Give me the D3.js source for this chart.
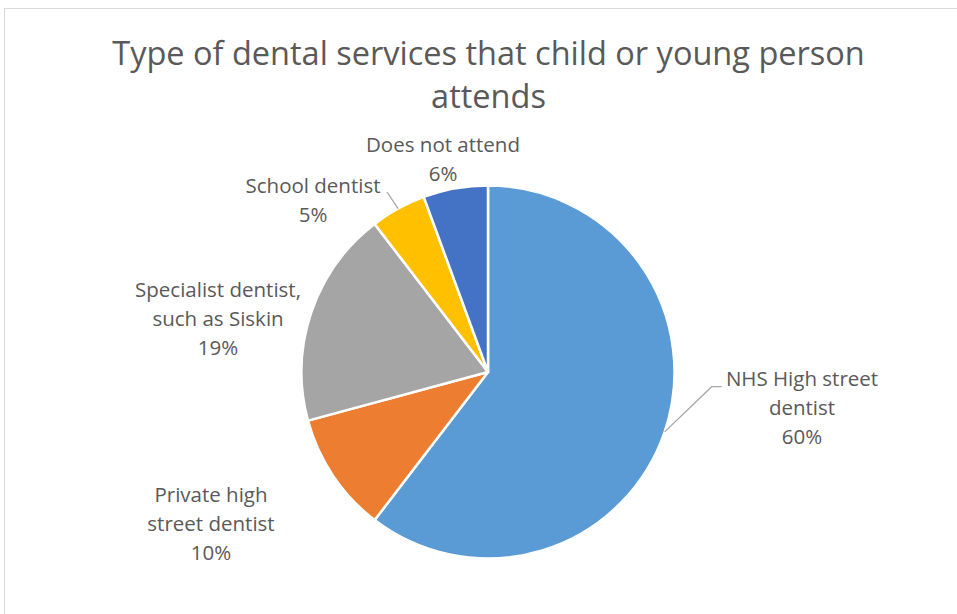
<!DOCTYPE html>
<html><head><meta charset="utf-8">
<script src="https://cdn.jsdelivr.net/npm/d3@7"></script>
<style>body{margin:0;background:#fff}svg{display:block}</style>
</head><body>
<svg id="c" width="957" height="614"></svg>
<script>
// ---- data ----
const categories = ["NHS High street dentist","Private high street dentist","Specialist dentist, such as Siskin","School dentist","Does not attend"];
const values = [60.4, 10.4, 18.8, 4.8, 5.6];
const colors = ["#5B9BD5","#ED7D31","#A5A5A5","#FFC000","#4472C4"];
const labelLines = [["NHS High street","dentist"],["Private high","street dentist"],["Specialist dentist,","such as Siskin"],["School dentist"],["Does not attend"]];
const titleLines = ["Type of dental services that child or young person","attends"];

// ---- layout ----
const cx = 488, cy = 372, R = 186.5;
const labelPos = [[802,386],[211,502],[218,297],[313,193],[443,152]]; // center x, first baseline
const lineH = 29;
const leaders = [[[711.7,386.7],[721.7,386.7]], null, null, [[387,192]], null];

const svg = d3.select("#c");
svg.append("rect").attr("x",4.5).attr("y",8.5).attr("width",1000).attr("height",700)
  .attr("fill","#fff").attr("stroke","#d9d9d9").attr("stroke-width",1);

const font = "'Open Sans', sans-serif";
const tcol = "#595959";

svg.append("g").selectAll("text").data(titleLines).join("text")
  .attr("x",488.5).attr("y",(d,i)=>65+i*43)
  .attr("text-anchor","middle").attr("font-family",font).attr("font-size",32.5)
  .attr("fill",tcol).text(d=>d);

const pie = d3.pie().value(d=>d).sort(null);
const arcs = pie(values);
const arc = d3.arc().innerRadius(0).outerRadius(R);
const g = svg.append("g").attr("transform",`translate(${cx},${cy})`);
g.selectAll("path").data(arcs).join("path")
  .attr("d",arc).attr("fill",(d,i)=>colors[i])
  .attr("stroke","#fff").attr("stroke-width",2.5).attr("stroke-linejoin","round");

// leader lines
arcs.forEach((a,i)=>{
  if(!leaders[i]) return;
  const m = (a.startAngle+a.endAngle)/2;
  const p0 = [cx+R*Math.sin(m), cy-R*Math.cos(m)];
  const pts = [p0].concat(leaders[i]);
  svg.append("path").attr("d",d3.line()(pts)).attr("fill","none")
    .attr("stroke","#a6a6a6").attr("stroke-width",1.3);
});

// labels
const fmt = v => Math.round(v)+"%";
arcs.forEach((a,i)=>{
  const lines = labelLines[i].concat([fmt(values[i])]);
  const t = svg.append("text").attr("text-anchor","middle").attr("font-family",font)
    .attr("font-size",20.5).attr("fill",tcol);
  lines.forEach((l,j)=>{
    t.append("tspan").attr("x",labelPos[i][0]).attr("y",labelPos[i][1]+j*lineH).text(l);
  });
});
</script>
</body></html>
